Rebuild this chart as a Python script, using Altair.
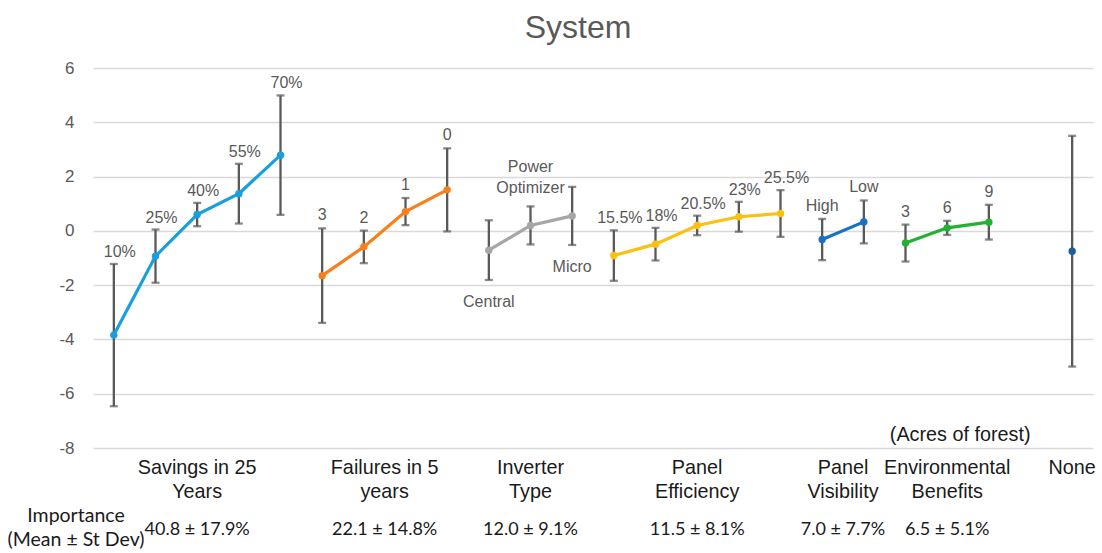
import altair as alt
import pandas as pd

# Attribute groups, in plotting order
groups = [
    "Savings in 25 Years",
    "Failures in 5 years",
    "Inverter Type",
    "Panel Efficiency",
    "Panel Visibility",
    "Environmental Benefits",
    "None",
]
cat_line1 = ["Savings in 25", "Failures in 5", "Inverter", "Panel", "Panel", "Environmental", "None"]
cat_line2 = ["Years", "years", "Type", "Efficiency", "Visibility", "Benefits", ""]
importance = ["40.8 ± 17.9%", "22.1 ± 14.8%", "12.0 ± 9.1%", "11.5 ± 8.1%", "7.0 ± 7.7%", "6.5 ± 5.1%", ""]
group_colors = ["#189fdd", "#f7801c", "#a6a6a6", "#fcc010", "#1672c6", "#22b232", "#1d5f9e"]
# empty category slots left before each group
gap_before = [0, 0, 0, 0, 0, 0, 1]

# Attribute levels
level_labels = [
    ["10%", "25%", "40%", "55%", "70%"],
    ["3", "2", "1", "0"],
    ["Central", "Power\nOptimizer", "Micro"],
    ["15.5%", "18%", "20.5%", "23%", "25.5%"],
    ["High", "Low"],
    ["3", "6", "9"],
    [""],
]
label_place = [
    ["pct", "pct", "pct", "pct", "pct"],
    ["above", "above", "above", "above"],
    ["below", "above2", "below"],
    ["pct", "pct", "pct", "pct", "pct"],
    ["above", "above"],
    ["above", "above", "above"],
    ["none"],
]

# Part-worth utilities (mean) and standard deviations
means = [
    [-3.84, -0.93, 0.60, 1.37, 2.79],
    [-1.65, -0.59, 0.71, 1.51],
    [-0.71, 0.20, 0.55],
    [-0.91, -0.49, 0.20, 0.52, 0.64],
    [-0.32, 0.33],
    [-0.45, 0.11, 0.32],
    [-0.75],
]
errs = [
    [2.62, 0.98, 0.43, 1.10, 2.20],
    [1.74, 0.60, 0.50, 1.53],
    [1.10, 0.70, 1.07],
    [0.93, 0.60, 0.36, 0.55, 0.86],
    [0.76, 0.79],
    [0.68, 0.26, 0.64],
    [4.25],
]

rows, cats = [], []
slot = 0
for gi, g in enumerate(groups):
    slot += gap_before[gi]
    first = slot
    for li, lab in enumerate(level_labels[gi]):
        m, e = means[gi][li], errs[gi][li]
        rows.append(dict(group=g, slot=slot, mean=m, lo=m - e, hi=m + e,
                         label=lab, place=label_place[gi][li]))
        slot += 1
    cats.append(dict(group=g, center=(first + slot - 1) / 2, line1=cat_line1[gi],
                     line2=cat_line2[gi], imp=importance[gi],
                     note="(Acres of forest)" if g == "Environmental Benefits" else ""))
n_slots = slot

df = pd.DataFrame(rows)
cdf = pd.DataFrame(cats)

GRAY_TXT = "#595959"
FONT = "Liberation Sans"

x_enc = alt.X("slot:Q", scale=alt.Scale(domain=[-0.5, n_slots - 0.5], nice=False, zero=False), axis=None)
y_scale = alt.Scale(domain=[-8, 6], nice=False, zero=False)
y_axis = alt.Axis(values=list(range(-8, 7, 2)), title=None, domain=False, ticks=False,
                  labelExpr="toString(datum.value)",
                  labelPadding=19, labelFontSize=17, labelColor=GRAY_TXT, labelFont=FONT,
                  gridColor="#d9d9d9", gridWidth=1.3)
color_enc = alt.Color("group:N", scale=alt.Scale(domain=groups, range=group_colors), legend=None)

base = alt.Chart(df)

bars = base.mark_rule(color="#595959", strokeWidth=2.3).encode(
    x=x_enc, y=alt.Y("lo:Q", scale=y_scale, axis=y_axis), y2="hi:Q")
cap_lo = base.mark_tick(orient="horizontal", color="#595959", size=8, thickness=2.3).encode(
    x=x_enc, y=alt.Y("lo:Q", scale=y_scale, axis=y_axis))
cap_hi = base.mark_tick(orient="horizontal", color="#595959", size=8, thickness=2.3).encode(
    x=x_enc, y=alt.Y("hi:Q", scale=y_scale, axis=y_axis))
lines = base.mark_line(strokeWidth=3.2).encode(
    x=x_enc, y=alt.Y("mean:Q", scale=y_scale, axis=y_axis), color=color_enc)
points = base.mark_point(filled=True, size=55, opacity=1).encode(
    x=x_enc, y=alt.Y("mean:Q", scale=y_scale, axis=y_axis), color=color_enc)

def level_text(place, field, **kw):
    return base.transform_filter(alt.datum.place == place).mark_text(
        font=FONT, fontSize=16, color=GRAY_TXT, lineBreak="\n", lineHeight=20.5, **kw
    ).encode(x=x_enc, y=alt.Y(f"{field}:Q", scale=y_scale, axis=y_axis), text="label:N")

txt_pct = level_text("pct", "hi", baseline="bottom", dy=-4, dx=6)
txt_above = level_text("above", "hi", baseline="bottom", dy=-5)
txt_above2 = level_text("above2", "hi", baseline="bottom", dy=-31)
txt_below = level_text("below", "lo", baseline="middle", dy=22)

cbase = alt.Chart(cdf)
cat1 = cbase.mark_text(font=FONT, fontSize=19.8, color="#1a1a1a", baseline="middle").encode(
    x=alt.X("center:Q", scale=alt.Scale(domain=[-0.5, n_slots - 0.5], nice=False, zero=False), axis=None),
    y=alt.value(400), text="line1:N")
cat2 = cbase.mark_text(font=FONT, fontSize=19.8, color="#1a1a1a", baseline="middle").encode(
    x=alt.X("center:Q", axis=None), y=alt.value(424), text="line2:N")
imp = cbase.mark_text(font="Lato", fontSize=18, color="#1a1a1a", baseline="middle").encode(
    x=alt.X("center:Q", axis=None), y=alt.value(462), text="imp:N")
note = cbase.mark_text(font=FONT, fontSize=19.8, color="#1a1a1a", baseline="middle", dx=13).encode(
    x=alt.X("center:Q", axis=None), y=alt.value(367), text="note:N")
imp_head = alt.Chart(pd.DataFrame({"t": ["Importance\n(Mean ± St Dev)"]})).mark_text(
    font="Lato", fontSize=19.5, color="#1a1a1a", baseline="middle", lineBreak="\n", lineHeight=24
).encode(x=alt.value(-17), y=alt.value(448), text="t:N")

chart = alt.layer(
    bars, cap_lo, cap_hi, lines, points,
    txt_pct, txt_above, txt_above2, txt_below,
    cat1, cat2, imp, note, imp_head,
).properties(
    width=1000,
    height=380,
    autosize=alt.AutoSizeParams(type="none"),
    padding={"left": 93, "top": 68, "right": 9, "bottom": 105},
    title=alt.TitleParams("System", fontSize=32, font=FONT, color=GRAY_TXT, fontWeight="normal",
                          anchor="middle", dx=-15, offset=14),
).configure_view(strokeWidth=0)

chart.save("out.html", embed_options={"renderer": "svg", "actions": False})
